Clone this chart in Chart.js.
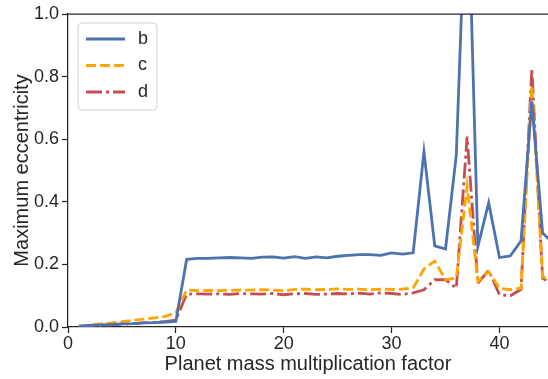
<!DOCTYPE html>
<html>
<head>
<meta charset="utf-8">
<script src="https://cdn.jsdelivr.net/npm/chart.js@4.4.1/dist/chart.umd.min.js"></script>
<style>
  html, body { margin: 0; padding: 0; background: #ffffff; }
  #wrap { width: 548px; height: 379px; position: relative; }
</style>
</head>
<body>
<div id="wrap"><canvas id="c" width="548" height="379"></canvas></div>
<script>
// ---- data ----
const massFactor = [1,2,3,4,5,6,7,8,9,10,11,12,13,14,15,16,17,18,19,20,21,22,23,24,25,26,27,28,29,30,31,32,33,34,35,36,37,38,39,40,41,42,43,44,45];
const eccB = [0.003,0.005,0.007,0.008,0.010,0.011,0.013,0.014,0.016,0.018,
  0.216,0.219,0.219,0.221,0.222,0.221,0.219,0.223,0.224,0.220,0.225,0.219,0.224,0.221,0.226,0.229,0.231,0.231,0.229,0.237,0.233,0.237,
  0.560,0.259,0.249,0.550,1.500,0.257,0.397,0.222,0.227,0.275,0.720,0.300,0.268];
const eccC = [0.002,0.006,0.010,0.013,0.017,0.021,0.025,0.029,0.034,0.045,
  0.118,0.116,0.117,0.116,0.117,0.118,0.118,0.119,0.118,0.116,0.120,0.121,0.119,0.120,0.122,0.120,0.121,0.119,0.121,0.120,0.121,0.125,
  0.185,0.211,0.151,0.156,0.450,0.145,0.177,0.124,0.119,0.124,0.770,0.160,0.150];
const eccD = [0.001,0.003,0.005,0.007,0.009,0.011,0.013,0.015,0.017,0.022,
  0.105,0.106,0.105,0.106,0.104,0.107,0.106,0.105,0.107,0.103,0.106,0.107,0.104,0.105,0.107,0.106,0.108,0.105,0.109,0.107,0.104,0.109,
  0.119,0.151,0.151,0.124,0.608,0.140,0.181,0.103,0.100,0.120,0.826,0.156,0.135];
const seriesNames = ['b', 'c', 'd'];
const xTicks = [0, 10, 20, 30, 40];
const yTicks = [0.0, 0.2, 0.4, 0.6, 0.8, 1.0];

const FONT = "'Liberation Sans', Arial, Helvetica, sans-serif";
const INK = '#262626';

function pts(ys) { return massFactor.map((x, i) => ({ x: x, y: ys[i] })); }

const topSpine = {
  id: 'topSpine',
  afterDatasetsDraw(chart) {
    const { ctx, chartArea } = chart;
    ctx.save();
    ctx.strokeStyle = INK;
    ctx.lineWidth = 1.25;
    ctx.beginPath();
    ctx.moveTo(chartArea.left, chartArea.top);
    ctx.lineTo(chartArea.right, chartArea.top);
    ctx.stroke();
    ctx.restore();
  }
};

const boxLegend = {
  id: 'boxLegend',
  afterDraw(chart) {
    const { ctx, chartArea } = chart;
    const x0 = chartArea.left + 10, y0 = chartArea.top + 9, w = 79, h = 87, r = 4;
    ctx.save();
    ctx.beginPath();
    ctx.moveTo(x0 + r, y0);
    ctx.lineTo(x0 + w - r, y0);
    ctx.arcTo(x0 + w, y0, x0 + w, y0 + r, r);
    ctx.lineTo(x0 + w, y0 + h - r);
    ctx.arcTo(x0 + w, y0 + h, x0 + w - r, y0 + h, r);
    ctx.lineTo(x0 + r, y0 + h);
    ctx.arcTo(x0, y0 + h, x0, y0 + h - r, r);
    ctx.lineTo(x0, y0 + r);
    ctx.arcTo(x0, y0, x0 + r, y0, r);
    ctx.closePath();
    ctx.fillStyle = 'rgba(255,255,255,0.8)';
    ctx.fill();
    ctx.strokeStyle = '#d0d0d0';
    ctx.lineWidth = 1;
    ctx.stroke();
    chart.data.datasets.forEach((ds, i) => {
      const cy = y0 + 16 + i * 26.5;
      ctx.beginPath();
      ctx.setLineDash(ds.borderDash || []);
      ctx.strokeStyle = ds.borderColor;
      ctx.lineWidth = ds.borderWidth;
      ctx.moveTo(x0 + 8, cy);
      ctx.lineTo(x0 + 47, cy);
      ctx.stroke();
      ctx.setLineDash([]);
      ctx.fillStyle = INK;
      ctx.font = '18px ' + FONT;
      ctx.textAlign = 'left';
      ctx.textBaseline = 'middle';
      ctx.fillText(ds.label, x0 + 60, cy);
    });
    ctx.restore();
  }
};

new Chart(document.getElementById('c'), {
  type: 'line',
  data: {
    datasets: [
      { label: seriesNames[0], data: pts(eccB), borderColor: '#4c72b0', borderWidth: 2.8, pointRadius: 0, tension: 0, clip: 0 },
      { label: seriesNames[1], data: pts(eccC), borderColor: '#ffa500', borderWidth: 2.8, borderDash: [10, 4], pointRadius: 0, tension: 0, clip: 0 },
      { label: seriesNames[2], data: pts(eccD), borderColor: '#c44e52', borderWidth: 2.8, borderDash: [16, 4, 3, 4], pointRadius: 0, tension: 0, clip: 0 }
    ]
  },
  options: {
    responsive: false,
    animation: false,
    devicePixelRatio: 1,
    layout: { padding: { top: 14, right: 0, left: 0, bottom: 0 } },
    plugins: { legend: { display: false }, tooltip: { enabled: false } },
    scales: {
      x: {
        type: 'linear',
        min: 0, max: 44.5,
        afterFit(s) { s.height = 52; },
        afterBuildTicks(s) { s.ticks = xTicks.map(v => ({ value: v })); },
        grid: { drawOnChartArea: false, drawTicks: true, tickLength: 6, tickColor: INK, tickWidth: 1.25 },
        border: { display: true, color: INK, width: 1.25 },
        ticks: { color: INK, padding: 0, maxRotation: 0, font: { family: FONT, size: 18 }, callback: v => String(v) },
        title: { display: true, text: 'Planet mass multiplication factor', color: INK, font: { family: FONT, size: 20 }, padding: { top: 0, bottom: 3 } }
      },
      y: {
        type: 'linear',
        min: 0, max: 1,
        afterFit(s) { s.width = 68; },
        afterBuildTicks(s) { s.ticks = yTicks.map(v => ({ value: v })); },
        grid: { drawOnChartArea: false, drawTicks: true, tickLength: 6, tickColor: INK, tickWidth: 1.25 },
        border: { display: true, color: INK, width: 1.25 },
        ticks: { color: INK, padding: 3, font: { family: FONT, size: 18 }, callback: v => Number(v).toFixed(1) },
        title: { display: true, text: 'Maximum eccentricity', color: INK, font: { family: FONT, size: 20 }, padding: { top: 10, bottom: 0 } }
      }
    }
  },
  plugins: [topSpine, boxLegend]
});
</script>
</body>
</html>
